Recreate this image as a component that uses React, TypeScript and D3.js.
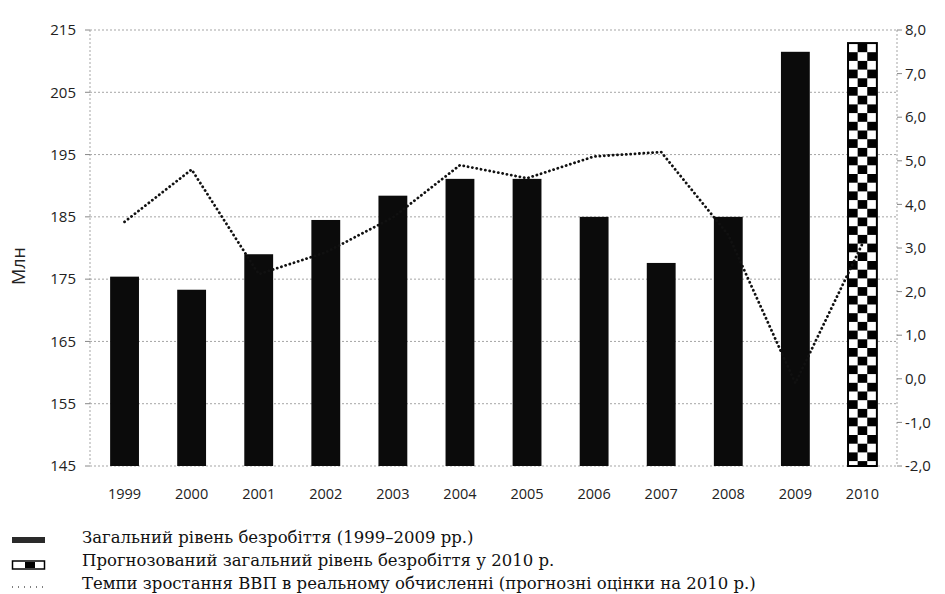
import React from "react";
import * as d3 from "d3";

const years = ["1999","2000","2001","2002","2003","2004","2005","2006","2007","2008","2009","2010"];
const unemployment = [175.4, 173.3, 179.0, 184.5, 188.4, 191.1, 191.1, 185.0, 177.6, 185.0, 211.5, 212.9];
const gdpGrowth = [3.6, 4.8, 2.4, 2.9, 3.7, 4.9, 4.6, 5.1, 5.2, 3.3, -0.1, 3.1];
const leftTicks = [145, 155, 165, 175, 185, 195, 205, 215];
const rightTicks = [-2, -1, 0, 1, 2, 3, 4, 5, 6, 7, 8];
const legendLabels = [
  "Загальний рівень безробіття (1999–2009 рр.)",
  "Прогнозований загальний рівень безробіття у 2010 р.",
  "Темпи зростання ВВП в реальному обчисленні (прогнозні оцінки на 2010 р.)",
];
const yAxisTitle = "Млн";

const W = 945, H = 594;
const left = 90, right = 897, top = 30, bottom = 466;

export default function App() {
  const x = d3.scaleBand<string>().domain(years).range([left, right]).paddingInner(0.57).paddingOuter(0.3);
  const yL = d3.scaleLinear().domain([145, 215]).range([bottom, top]);
  const yR = d3.scaleLinear().domain([-2, 8]).range([bottom, top]);
  const bw = x.bandwidth();
  const line = d3.line<number>()
    .x((_, i) => (x(years[i]) as number) + bw / 2)
    .y((d) => yR(d));
  const sans = "'Open Sans', 'DejaVu Sans', sans-serif";
  const serif = "'DejaVu Serif', 'Liberation Serif', serif";
  const fmt = (v: number) => v.toFixed(1).replace(".", ",");
  const lastX = x(years[years.length - 1]) as number;
  const cw = bw / 3, ch = 8.7;

  return (
    <svg width={W} height={H} style={{ position: "absolute", left: 0, top: 0, background: "#fff" }}>
      <defs>
        <pattern id="checker" patternUnits="userSpaceOnUse" width={cw * 2} height={ch * 2} x={lastX} y={0}>
          <rect width={cw * 2} height={ch * 2} fill="#fff" />
          <rect x={0} y={0} width={cw} height={ch} fill="#000" />
          <rect x={cw} y={ch} width={cw} height={ch} fill="#000" />
        </pattern>
      </defs>
      {/* gridlines */}
      {leftTicks.map((t) => (
        <line key={"g" + t} x1={left} x2={right} y1={yL(t)} y2={yL(t)} stroke="#a5a5a5" strokeWidth={1} strokeDasharray="2,2" />
      ))}
      <line x1={left} x2={left} y1={top} y2={bottom} stroke="#a5a5a5" strokeDasharray="2,2" />
      <line x1={right} x2={right} y1={top} y2={bottom} stroke="#a5a5a5" strokeDasharray="2,2" />
      {leftTicks.map((t) => (
        <line key={"lt" + t} x1={left - 5} x2={left} y1={yL(t)} y2={yL(t)} stroke="#888" />
      ))}
      {rightTicks.map((t) => (
        <line key={"rt" + t} x1={right} x2={right + 5} y1={yR(t)} y2={yR(t)} stroke="#888" />
      ))}
      {/* bars */}
      {unemployment.map((v, i) => (
        <rect key={years[i]} x={x(years[i])} y={yL(v)} width={bw} height={bottom - yL(v)}
          fill={i === years.length - 1 ? "url(#checker)" : "#0b0b0b"}
          stroke={i === years.length - 1 ? "#000" : "none"} strokeWidth={2} />
      ))}
      {/* line */}
      <path d={line(gdpGrowth) as string} fill="none" stroke="#111" strokeWidth={2.8} strokeDasharray="0.1,4.3" strokeLinecap="round" />
      {/* axes labels */}
      {leftTicks.map((t) => (
        <text key={"ll" + t} x={left - 14} y={yL(t)} dy="0.35em" textAnchor="end" fontFamily={sans} fontSize={15} fill="#222">{t}</text>
      ))}
      {rightTicks.map((t) => (
        <text key={"rl" + t} x={right + 8} y={yR(t)} dy="0.35em" textAnchor="start" fontFamily={sans} fontSize={15} fill="#222">{fmt(t)}</text>
      ))}
      {years.map((yr) => (
        <text key={"x" + yr} x={(x(yr) as number) + bw / 2} y={499} textAnchor="middle" fontFamily={sans} fontSize={14.5} fill="#222">{yr}</text>
      ))}
      <text transform={`translate(25,266) rotate(-90)`} textAnchor="middle" fontFamily={sans} fontSize={18} fill="#222">{yAxisTitle}</text>
      {/* legend */}
      <rect x={12} y={537} width={33} height={6} fill="#2a2a2a" />
      <rect x={12.5} y={561} width={32} height={8} fill="#fff" stroke="#000" strokeWidth={1.5} />
      <rect x={25} y={562} width={10} height={6} fill="#000" />
      <line x1={12} x2={45} y1={587} y2={587} stroke="#555" strokeWidth={1.3} strokeDasharray="1,5" />
      {legendLabels.map((l, i) => (
        <text key={l} x={82} y={543 + i * 23} fontFamily={serif} fontSize={16.5} fill="#111">{l}</text>
      ))}
    </svg>
  );
}
